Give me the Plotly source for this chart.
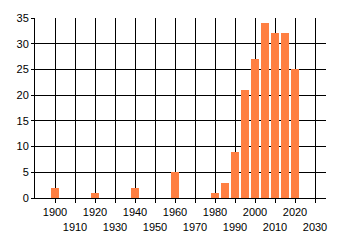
import plotly.graph_objects as go

years = [1900, 1920, 1940, 1960, 1980, 1985, 1990, 1995, 2000, 2005, 2010, 2015, 2020]
counts = [2, 1, 2, 5, 1, 3, 9, 21, 27, 34, 32, 32, 25]
tick_years = list(range(1900, 2031, 10))
tick_labels = [str(y) if (y // 10) % 2 == 0 else "<br>" + str(y) for y in tick_years]
y_ticks = [0, 5, 10, 15, 20, 25, 30, 35]

fig = go.Figure()
fig.add_trace(go.Bar(x=years, y=counts, width=4, marker=dict(color="#FF7F42", line=dict(width=0))))

fig.update_layout(
    width=340, height=245,
    margin=dict(l=35, r=14, t=15, b=44),
    paper_bgcolor="white", plot_bgcolor="white",
    showlegend=False,
    font=dict(family="Liberation Sans", size=11, color="#000000"),
    bargap=0,
)
fig.update_xaxes(
    range=[1890, 2035.5], tickvals=tick_years, ticktext=tick_labels,
    showgrid=True, gridcolor="black", gridwidth=1,
    showline=True, linecolor="black", linewidth=1,
    ticks="outside", ticklen=4, tickcolor="black",
    zeroline=False, tickangle=0,
)
fig.update_yaxes(
    range=[0, 35], tickvals=y_ticks,
    showgrid=True, gridcolor="black", gridwidth=1,
    showline=True, linecolor="black", linewidth=1,
    ticks="outside", ticklen=3, tickcolor="black",
    zeroline=False,
)
fig.write_html("out.html")
